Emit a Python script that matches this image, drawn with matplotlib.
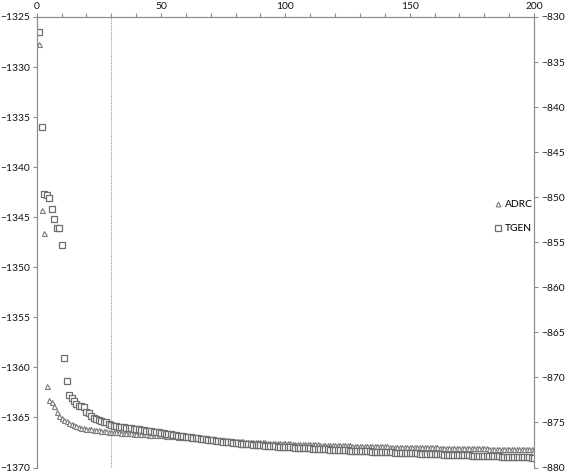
import matplotlib
matplotlib.use("Agg")
import matplotlib.pyplot as plt
from matplotlib.lines import Line2D

plt.rcParams['font.family'] = ['Lato', 'DejaVu Sans']

iterations = list(range(1, 201))

adrc = [
    -1327.70, -1344.30, -1346.60, -1361.90, -1363.30, -1363.50, -1363.90, -1364.50, -1364.90, -1365.10,
    -1365.30, -1365.40, -1365.60, -1365.70, -1365.80, -1365.90, -1366.00, -1366.05, -1366.10, -1366.14,
    -1366.17, -1366.20, -1366.23, -1366.26, -1366.29, -1366.32, -1366.35, -1366.38, -1366.41, -1366.44,
    -1366.46, -1366.48, -1366.50, -1366.52, -1366.54, -1366.56, -1366.58, -1366.60, -1366.61, -1366.63,
    -1366.65, -1366.67, -1366.68, -1366.70, -1366.71, -1366.73, -1366.74, -1366.75, -1366.77, -1366.78,
    -1366.80, -1366.82, -1366.84, -1366.86, -1366.88, -1366.90, -1366.92, -1366.94, -1366.96, -1366.98,
    -1367.00, -1367.02, -1367.04, -1367.06, -1367.08, -1367.10, -1367.12, -1367.14, -1367.16, -1367.18,
    -1367.20, -1367.22, -1367.23, -1367.25, -1367.27, -1367.28, -1367.30, -1367.32, -1367.33, -1367.35,
    -1367.36, -1367.38, -1367.39, -1367.41, -1367.42, -1367.43, -1367.45, -1367.46, -1367.47, -1367.48,
    -1367.49, -1367.50, -1367.51, -1367.52, -1367.53, -1367.54, -1367.55, -1367.56, -1367.57, -1367.58,
    -1367.59, -1367.60, -1367.61, -1367.62, -1367.63, -1367.64, -1367.65, -1367.66, -1367.67, -1367.68,
    -1367.69, -1367.70, -1367.70, -1367.71, -1367.72, -1367.73, -1367.74, -1367.74, -1367.75, -1367.76,
    -1367.77, -1367.77, -1367.78, -1367.79, -1367.80, -1367.80, -1367.81, -1367.82, -1367.82, -1367.83,
    -1367.84, -1367.84, -1367.85, -1367.86, -1367.86, -1367.87, -1367.88, -1367.88, -1367.89, -1367.89,
    -1367.90, -1367.91, -1367.91, -1367.92, -1367.92, -1367.93, -1367.93, -1367.94, -1367.94, -1367.95,
    -1367.95, -1367.96, -1367.96, -1367.97, -1367.97, -1367.98, -1367.98, -1367.99, -1367.99, -1368.00,
    -1368.00, -1368.01, -1368.01, -1368.02, -1368.02, -1368.03, -1368.03, -1368.04, -1368.04, -1368.05,
    -1368.05, -1368.06, -1368.06, -1368.07, -1368.07, -1368.08, -1368.08, -1368.09, -1368.09, -1368.10,
    -1368.10, -1368.11, -1368.11, -1368.12, -1368.12, -1368.13, -1368.13, -1368.14, -1368.14, -1368.15,
    -1368.15, -1368.16, -1368.16, -1368.16, -1368.17, -1368.17, -1368.17, -1368.18, -1368.18, -1368.18,
]

tgen = [
    -831.70, -842.20, -849.60, -849.80, -850.10, -851.30, -852.40, -853.40, -853.40, -855.30,
    -867.80, -870.40, -871.90, -872.30, -872.60, -873.00, -873.20, -873.20, -873.30, -873.80,
    -874.00, -874.30, -874.50, -874.60, -874.70, -874.80, -874.90, -875.00, -875.20, -875.30,
    -875.38, -875.42, -875.46, -875.50, -875.54, -875.58, -875.62, -875.66, -875.70, -875.74,
    -875.78, -875.82, -875.86, -875.90, -875.94, -875.98, -876.02, -876.06, -876.10, -876.15,
    -876.19, -876.24, -876.28, -876.33, -876.37, -876.41, -876.46, -876.50, -876.54, -876.58,
    -876.62, -876.66, -876.70, -876.74, -876.78, -876.81, -876.85, -876.89, -876.92, -876.96,
    -876.99, -877.03, -877.06, -877.10, -877.13, -877.16, -877.19, -877.22, -877.25, -877.28,
    -877.31, -877.34, -877.36, -877.39, -877.41, -877.44, -877.46, -877.49, -877.51, -877.53,
    -877.55, -877.57, -877.59, -877.61, -877.63, -877.65, -877.67, -877.69, -877.71, -877.72,
    -877.74, -877.76, -877.78, -877.79, -877.81, -877.83, -877.84, -877.86, -877.87, -877.89,
    -877.90, -877.92, -877.93, -877.95, -877.96, -877.98, -877.99, -878.01, -878.02, -878.04,
    -878.05, -878.06, -878.08, -878.09, -878.10, -878.12, -878.13, -878.14, -878.16, -878.17,
    -878.18, -878.19, -878.21, -878.22, -878.23, -878.24, -878.26, -878.27, -878.28, -878.29,
    -878.30, -878.32, -878.33, -878.34, -878.35, -878.36, -878.38, -878.39, -878.40, -878.41,
    -878.42, -878.43, -878.44, -878.46, -878.47, -878.48, -878.49, -878.50, -878.51, -878.52,
    -878.53, -878.54, -878.55, -878.56, -878.57, -878.58, -878.59, -878.60, -878.61, -878.62,
    -878.63, -878.64, -878.65, -878.66, -878.67, -878.68, -878.69, -878.70, -878.71, -878.72,
    -878.73, -878.74, -878.75, -878.76, -878.76, -878.77, -878.78, -878.79, -878.80, -878.81,
    -878.82, -878.83, -878.84, -878.85, -878.86, -878.87, -878.88, -878.89, -878.90, -878.91,
]

x_ticks = [0, 50, 100, 150, 200]
left_ticks = [-1325, -1330, -1335, -1340, -1345, -1350, -1355, -1360, -1365, -1370]
right_ticks = [-830, -835, -840, -845, -850, -855, -860, -865, -870, -875, -880]
marker_line = 30

W, H = 567, 474
fig = plt.figure(figsize=(W / 100, H / 100), dpi=100)
l, r, t, b = 36.7, 534.0, 17.0, 467.5
ax = fig.add_axes([l / W, 1 - b / H, (r - l) / W, (b - t) / H])
ax2 = ax.twinx()

spine_c = '#8c8c8c'
mk_c = '#7a7a7a'
fs = 7.4

ax.plot(iterations, adrc, linestyle='none', marker='^', markersize=3.6,
        markerfacecolor='white', markeredgecolor=mk_c, markeredgewidth=0.8, label='ADRC')
ax2.plot(iterations, tgen, linestyle='none', marker='s', markersize=4.6,
         markerfacecolor='white', markeredgecolor='#6e6e6e', markeredgewidth=0.9, label='TGEN')

ax.axvline(marker_line, color='#9a9a9a', linestyle=(0, (1, 1)), linewidth=0.8)

ax.set_xlim(0, 200)
ax.set_ylim(-1370, -1325)
ax2.set_ylim(-880, -830)

ax.set_xticks(x_ticks)
ax.set_xticks(list(range(0, 201, 10)), minor=True)
ax.xaxis.tick_top()
ax.set_yticks(left_ticks)
ax2.set_yticks(right_ticks)

for a in (ax, ax2):
    for s in a.spines.values():
        s.set_color(spine_c)
        s.set_linewidth(0.8)
    a.spines['bottom'].set_visible(False)
    a.tick_params(colors=spine_c, labelcolor='#111111', labelsize=fs, width=0.8, length=3)

ax.tick_params(axis='x', which='both', top=True, bottom=False, length=3, pad=1.5)
ax.tick_params(axis='x', which='minor', length=3, color=spine_c, width=0.8)
ax.tick_params(axis='y', pad=2)
ax2.tick_params(axis='y', pad=2)

handles = [
    Line2D([], [], linestyle='none', marker='^', markersize=3.4, markerfacecolor='white',
           markeredgecolor=mk_c, markeredgewidth=0.8),
    Line2D([], [], linestyle='none', marker='s', markersize=3.8, markerfacecolor='white',
           markeredgecolor='#6e6e6e', markeredgewidth=0.9),
]
fig.legend(handles, ['ADRC', 'TGEN'], loc='upper left', bbox_to_anchor=(494 / W, 1 - 200 / H),
           frameon=False, fontsize=fs, handlelength=0.7, handletextpad=0.35,
           labelspacing=1.45, borderpad=0, borderaxespad=0)

fig.savefig('out.png', dpi=100)
